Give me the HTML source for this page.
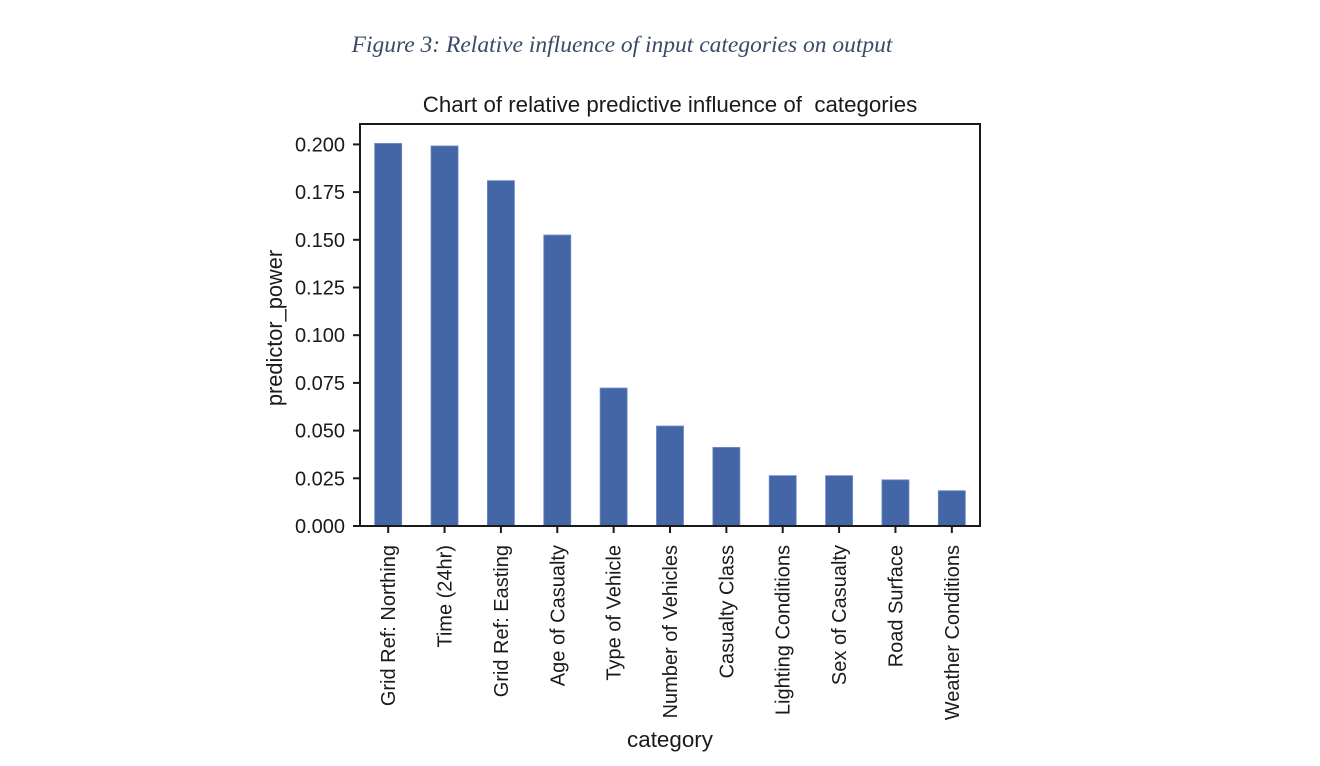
<!DOCTYPE html>
<html><head><meta charset="utf-8"><style>
html,body{margin:0;padding:0;background:#fff;}
svg{display:block;font-family:"Liberation Sans",Arial,sans-serif;}
</style></head><body>
<svg id="chart" width="1320" height="766" viewBox="0 0 1320 766" xmlns="http://www.w3.org/2000/svg">
<text x="622" y="52" text-anchor="middle" font-family="Liberation Serif,serif" font-style="italic" font-size="23.5" fill="#3b4a68">Figure 3: Relative influence of input categories on output</text>
<text x="670" y="112" text-anchor="middle" font-size="22.3" fill="#1a1a1a" style="white-space:pre" xml:space="preserve">Chart of relative predictive influence of  categories</text>
<g id="bars"></g>
<g id="yticks"></g>
<g id="xticks"></g>
<rect x="360" y="124" width="620" height="402" fill="none" stroke="#1a1a1a" stroke-width="2"/>
<text transform="translate(282,328) rotate(-90)" text-anchor="middle" font-size="21.8" fill="#1a1a1a">predictor_power</text>
<text x="670" y="747" text-anchor="middle" font-size="22.4" fill="#1a1a1a">category</text>
</svg>
<script>
const categories = ["Grid Ref: Northing","Time (24hr)","Grid Ref: Easting","Age of Casualty","Type of Vehicle","Number of Vehicles","Casualty Class","Lighting Conditions","Sex of Casualty","Road Surface","Weather Conditions"];
const values = [0.2005,0.1992,0.181,0.1525,0.0723,0.0524,0.0412,0.0264,0.0264,0.0242,0.0185];
const yTicks = [0,0.025,0.05,0.075,0.1,0.125,0.15,0.175,0.2];
const yTickLabels = ["0.000","0.025","0.050","0.075","0.100","0.125","0.150","0.175","0.200"];

const NS="http://www.w3.org/2000/svg";
const L=360,R=980,B=526,T=124;
const yScale=v=>B-v*1908;
const step=(R-L)/categories.length;
const xScale=i=>L+step*(i+0.5);
const bw=step*0.48;
function mk(tag,attrs,parent){const e=document.createElementNS(NS,tag);for(const k in attrs)e.setAttribute(k,attrs[k]);parent.appendChild(e);return e;}
const gb=document.getElementById('bars'),gy=document.getElementById('yticks'),gx=document.getElementById('xticks');
values.forEach((v,i)=>{
  const r=mk('rect',{x:xScale(i)-bw/2,y:yScale(v),width:bw,height:B-yScale(v),fill:'#4466a6',stroke:'#6f8cc4','stroke-width':0.8},gb);
  
  
});
yTicks.forEach((v,i)=>{
  const y=yScale(v);
  const ln=mk('line',{x1:L-7,x2:L,y1:y,y2:y,stroke:'#1a1a1a','stroke-width':2},gy);
  
  
  const t=mk('text',{x:L-15,y:y+7,'text-anchor':'end','font-size':20,fill:'#1a1a1a'},gy);
  t.textContent=yTickLabels[i];
  
  
});
categories.forEach((c,i)=>{
  const x=xScale(i);
  const ln=mk('line',{x1:x,x2:x,y1:B,y2:B+7,stroke:'#1a1a1a','stroke-width':2},gx);
  
  
  const t=mk('text',{transform:`translate(${x+7},545) rotate(-90)`,'text-anchor':'end','font-size':20,fill:'#1a1a1a'},gx);
  t.textContent=c;
  
  
});
</script>
</body></html>
